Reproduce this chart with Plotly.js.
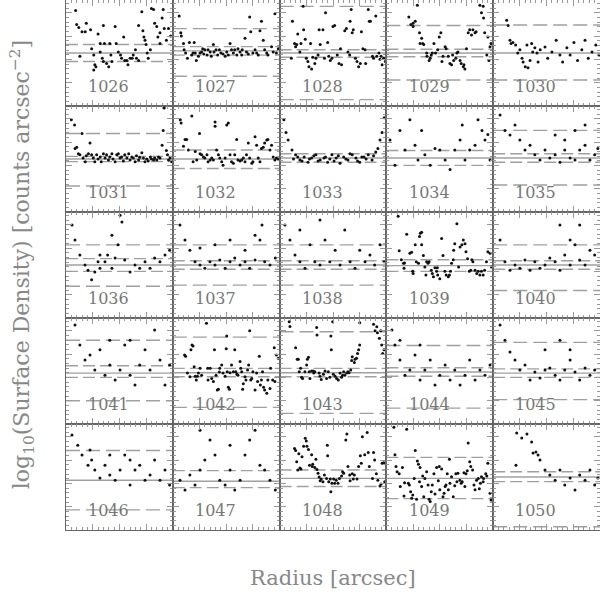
<!DOCTYPE html>
<html>
<head>
<meta charset="utf-8">
<script src="https://cdn.plot.ly/plotly-3.0.1.min.js"></script>
<style>
  html, body { margin: 0; padding: 0; background: #fff; }
  #chart { width: 600px; height: 600px; }
</style>
</head>
<body>
<div id="chart"></div>
<script>
// Galaxy ids, one per panel (row by row)
var panelIds = [1026, 1027, 1028, 1029, 1030,
                1031, 1032, 1033, 1034, 1035,
                1036, 1037, 1038, 1039, 1040,
                1041, 1042, 1043, 1044, 1045,
                1046, 1047, 1048, 1049, 1050];

// radius of each point, per panel (arbitrary units, 0-100 across a panel)
var radius = [
  [9,10,12,15,18,19,23,13,24,26,27,26,28,30,32,32,34,35,36,35,38,40,41,42,43,46,47,49,51,52,54,55,57,58,60,62,63,65,66,68,68,71,72,73,74,75,76,77,79,80,82,83,85,86,88,90,91,92,94,96,98,88],
  [6,7.5,8,10,10.6,12,13.7,15.6,17.7,19,20,21,22,24,25.5,27,28,29,30,32,33,35,36,38,38.6,40.5,42,43.6,45,47,49,50.5,52,53.6,55,56.7,58,60,61,63,64.5,65,67.6,69,70.7,72,73,75,77,78.5,80,81.6,83,84.7,86,88,89,92.5,94,95.6,97,98.8],
  [12,14,16,17,15,19,20,22,22.5,24,25,26.5,27.5,29,30,31,33,34,36,37,38,40.6,42,43,45,46,47.5,49,50,51.5,54,55.6,57,58,61,62.5,64,65.6,66,67,68,69,71,72.5,74,75.6,76.6,78,80,80.6,83,84,85,87,88,90,91,93,94,96,97.5,99,95,11],
  [21,23,25,25,27,29,31,33,31.5,34,35,37.7,38,40,41,42,43,44.5,46,48,49.5,51,52,53,55,56,58,59.5,61,62,63,65,66,67,69,70,72,73.5,72.6,75,76.6,78,79.7,81,83,84,87.5,89,90.6,91,92,94,95,97,98,96],
  [12.6,14,15.7,16.7,18.5,21,23,25,27,28,30,31.6,32.6,34.5,36,37,39,41,42,44,48.5,51,55,59,62.5,65,69,72,75.6,79,83,86,89,92.5,96,99],
  [5,8,8.5,10,11.6,13,15,16,18,19,21,22.5,24,25.6,27,28.7,30,32,33,35,36.6,38,39.7,41,43,44,46,47.5,49,50.6,52,53.7,55,57,58.7,60,61.6,63,64.7,66,68,69,71,72.5,74,75.6,77,79,80,82,83,85,86.6,88,90,91,92,94,95,96,97.5,99],
  [7,7.8,10,11.5,13,14.6,17.8,19,21,22.4,25,25.5,27,28.7,30,32,33,35,36.4,38,39.6,39.6,41,42.7,44,45.8,47,49,50.5,52,53.6,55,56.7,58,59.8,61,63,64.5,66,67.6,69,70.7,72,74,75,77,78.5,80,81.6,83,84.7,86,88,89,91,92.5,94,95.6,97,98.8],
  [4,8,11.6,15,19,23,26.6,30,34,38,41.6,45,49,53,56.6,60,64,68,71.5,75,79,83,86.6,90,94,98,6,13,17,21,28,32,36,43,47,51,55,62,66,73,77,81,88,92,96],
  [3.4,8,12.7,17.4,22,26.8,29.6,33,36,41,45.5,50,55,59.6,64,69,71,73.6,78,83,85.8,89.5,92.3,95,97],
  [6.4,11,15.7,20.4,25,29.8,34.5,39,43.8,48.5,53,58,62.5,67,72,76.6,81,86,90.6,95,98,58,67,76.6,86],
  [5.6,8.4,13,17.8,20.6,24,27,30,31.8,36.5,39,43,46,48.7,50.6,52.4,55,60,64.6,69,74,78.7,83,88,92.7,97,43,31.8],
  [6.7,11.4,16,20.8,25.5,30,34.8,39.5,44,49,53.6,58,63,67.6,72,77,81.6,86,91,96,25.5,39.5,53.6,67.6,77,83.5],
  [5,9.7,14.4,19,23.8,28.5,33,37.8,42.5,47,52,56.6,61,66,70.6,75,80,84.6,89,94,97.8,19,37.8],
  [11,12,14,16,16.5,17,19,22,23.6,24.6,25,27,28,30,31,31.8,33,33,34.6,36,37,37.7,39,40,42,43,44,45.5,47,47.7,48,50,51.7,53,54.8,56,58,59,60,61,62.6,63,64,66,67.6,69,70.7,72,73.6,74.5,76,77.6,79,80,81,83,84.6,86,87.5,89,90.6,92,93.7,95,97,98.4],
  [6.4,11,15.7,20.4,25,29.8,34.5,39,43.8,48.5,53,58,62.5,67,72,76.6,81,86,90.6,95,62.5,72,81],
  [8.4,13,17.8,22.5,27,31.8,36.5,41,46,50.6,55,60,64.6,69,74,78.7,83,88,92.7,97,41,60],
  [11,12,13.7,16,17,18,19,20,21,22,23,24,25.5,27,31.5,32.7,33,35,36.4,38,39,40.5,41.7,42.7,43.6,44,45.8,47,49,50,50.5,51,52,53,53.6,55,56.7,58,59,60,61,63,63.6,64.5,65.4,66,67.6,68.5,70,71,72,73,74,75,77,78.5,79.4,81,82,83,84,85,86,88,89,91,91.6,93.5,95,95.6,97,98.8],
  [9,9.7,15,16.5,17.5,18.4,19.7,20.6,21.5,23.7,25.3,26,27,27.8,28.4,30,31.5,32,33,34.7,35,37,37.8,39,41,42.5,44,45.6,47,48,48.4,49.7,50.3,52,53.4,55,56.6,58,59,60,61,62.8,64,65,66.6,67.5,68,70,70.6,72,73,74,75,75,88,89.4,91,91.6,93.4,94.7,95.6,96.5,97.8],
  [5.2,8,12.7,17.4,22,26.8,31.5,36,41,45.5,50,55,59.6,64,69,73.6,78,83,87.6,92.3,97,12.7,31.5],
  [6.4,11,15.7,20.4,25,29.8,34.5,39,43.8,48.5,53,58,62.5,67,72,76.6,81,86,90.6,95,62.5,72,48.5],
  [5.6,11,15,20.6,24,27,31.8,36.5,41,46,50.6,55,60,64.6,69,74,78.7,83,88,92.7,97,22.5,41,60],
  [6.7,11.4,16,20.8,25.5,30,34.8,39.5,44,49,53.6,58,63,67.6,72,77,81.6,86,91,96,25.5,53.6],
  [14,15,16,17,18,19,20,21,22.5,24,25,25.6,27,28,30,30.6,31,33,34,35,36,37,38,39,40.6,42,44,44.7,45,46,47.5,48,49,50.6,51.6,53,54.7,56,58,59,60,62,63,64,65.6,66,68,69,70,72.5,74,75.6,76.5,77.5,79.7,82,83,84,87,88,89,90.6,92,94,95,96,97.5,98.4],
  [7,8,9,10,12,13,15,16.5,17,19,20.5,21.5,22.7,23.7,24.7,26,27,28.3,29,30,31,31.5,33,34,35,36,37.7,39,40,41,42,43,44.5,45.5,47,48.6,49.5,50,51.7,53,54,55,55.8,57,58,59,59.5,61,62.6,64,65,66,67,68.8,70,71,72.6,73.5,74.5,75.7,76.6,78,79,80.7,82,83,84.4,86,87,88,89,90.6,91,93,94,95,97,98],
  [22,26.7,31.6,36,37.3,40,42,21.3,43.8,48.5,53,58,62.5,67,72,76.6,81,86,90.6,95,98]
];

// log surface density of each point, per panel (arbitrary units, 0-100 up a panel)
var density = [
  [90,77,74,70,70,78,72,47,54,48,39,34,37,68,59,51,45,76,59,42,40,37,59,48,42,75,59,51,48,45,65,43,43,39,45,45,48,53,45,43,76,89,71,65,62,58,50,45,53,92,91,78,75,65,69,83,91,73,62,73,66,59],
  [85,69,66,59,53,50,45,60,48,50,60,50,43,47,50,51,54,49,53,48,53,51,47,58,51,53,48,53,50,49,47,51,48,59,53,50,53,48,54,51,48,53,64,51,49,84,70,50,53,50,48,71,80,62,53,50,48,56,51,87,50,54],
  [80,59,58,68,56,51,59,94,72,63,45,42,37,59,35,46,40,45,48,72,58,72,45,88,60,47,43,45,75,76,48,40,54,39,71,73,51,48,80,91,69,72,45,42,37,40,70,54,53,40,91,80,80,47,45,85,47,50,44,39,45,42,47,45],
  [84,77,78,75,80,95,69,64,59,59,58,50,47,43,45,48,50,59,50,53,65,69,42,47,56,54,47,40,39,48,43,45,50,51,43,40,37,35,39,54,69,72,67,72,69,70,95,88,94,83,69,48,65,56,59,43],
  [81,76,62,59,60,57.5,50,53,45,41.5,37,57.5,36,43,59,51,55,50,41.5,53,55.6,45,51,62,48,41.5,55,48,60,43,53,62,45,51,57.5,48],
  [87,82,60,61,55,54,74,51,47.5,53,55,65,54,51,47.5,54,50,52,47.5,55,51,54,49,52,55,50,47.5,54,55,51,52,48,54,51,55,49,52,51,47.5,53,49,51.6,56,51,47.5,50,48,52,50,49,51,49,52,51,63,77,98,58,54,49,51,47.5],
  [87,84,62,68.5,68.5,58.5,90.6,47.5,57,49,74,55,54,52,51,54,47.5,49,51,49,85,81,58.5,54,51,47.5,44,51,82,84,54,47.5,46,54,68.5,49,48,49,51,47.5,54,65,51,46,47.5,71,63,51,47.5,60,61,65,68,68.5,58.5,63,52,49,51,50],
  [87,68,58.5,54,49,52,47,51,54,49,51,47,54,51,46,52,49,54,51,47,52,54,49,56.6,68,89,75,50,52,48,50,53,48,52,50,48,53,50,55,48,52,50,53,60,75],
  [68,44,77,58.5,87,63,49,77,54,44,60,58.5,49,40,58.5,68,82,49,58.5,63,87,77,68,73,49],
  [91.5,77,72.6,82,68,58.5,63,54,49,58.5,51,54,47,58.5,51,49,58.5,63,49,54,60,72.6,68,77,82],
  [87.7,73.6,59.4,50,45,36,43.4,53,47,53,59.4,47,56.6,69,97,90.6,54.7,43.4,50,47,53,47,56.6,53,59.4,64,78,59.4],
  [87.7,73.6,64,53,50,47,53,50,54.7,47,53,56.6,50,53,47,54.7,73.6,53,50,56.6,66,69,73.6,64,78,87.7],
  [87.7,73.6,59.4,53,47,69,53,50,73.6,53,64,50,83,53,47,64,53,59.4,50,69,53,83,92.5],
  [96,63.5,55,51.6,47,52,79,61,62,44,42,69,53,51.6,77,80,81,69,59,48,40.6,53,51.6,53,45,42,39,47.5,44,47.5,40.6,37,75,59,44,40.6,39,40.6,44,51.6,55,64,70,89,48,67,69,73.6,70,62.6,56,44,45,55,53,45,42,44,40.6,44,40.6,45,53,62.6,61,48],
  [73.6,53,45,50,47,54.7,45,53,47,50,56.6,53,45,59.4,50,69,54.7,50,64,59.4,87.7,73.6,87.7],
  [93.4,74.5,60.4,65,51,70,46,55.7,41.5,51,74.5,46,36.8,55.7,70,51,88.7,60.4,36.8,55.7,79,79],
  [65,64,48,44.6,70,74.5,73.6,54,45,41.5,45,48,52.5,46,95,52.5,41.5,52.5,43,40,70,46,32,32.7,49,52.5,55.6,48,45,71,83,49.4,34.6,32.7,48.4,55.6,49.4,70,49.4,47,46,59,52.5,49.4,32.7,38,44.6,41.5,51,55.6,88,41.5,43,49.4,32,48,40,64,36.8,41.5,49.4,34.6,32,29,41.5,33.6,52.5,41.5,72,40,65,62],
  [96.5,92,72,61,61,49.4,52.5,44,43,49.4,55.6,61,63,49.4,43,50,50,48,49.4,91,84,48,45,42,47,50,43,49.4,44,83,70,96.5,47,45,43,41.5,48,44,46,49.4,46,48,49.4,48.4,51,60,63.5,58,61,62,66.6,70,74.5,95.6,94,88,91.8,86,81,88,74.5,66.6,70],
  [88.7,74.5,60.4,46,51,65,41.5,51,60.4,36.8,46,55.7,41.5,51,36.8,46,60.4,41.5,51,46,55.7,79,74.5],
  [93.4,79,68,60.4,51,55.7,41.5,49,43.4,51,52.8,46,41.5,51,60.4,49,41.5,52.8,46,51,79,70,70],
  [89.6,80,70.8,61,66,56.6,49,61,52,47,56.6,70.8,42.5,56.6,61,47,52,66,47,56.6,42.5,75.5,70.8,66],
  [47,37.7,52,42.5,56.6,66,85,70.8,47,42.5,56.6,37.7,47,70.8,85,94,61,56.6,47,37.7,94,80],
  [77,75,64.5,56.6,72,58.5,57.5,69,79,86.5,84,79,76,61,71,60,62,59,66.7,57,53.5,50,46.5,48,45.6,52,48.7,80,70,45.6,48,36,44,48,44,47,44,48.7,51,55,53.5,85,90.6,60,52,46.5,53,48,52,48,60,70,63,88,71,92,73,60,48.7,73,66,53,47,41.5,43.4,63,63.5,45.6],
  [97,71,60,55,53,41,59,32,44.6,95,44,42.5,36,30,33,48.7,75,29,65,62,45.6,59,41,51,31.4,48.7,55,42.5,29,27,36,42.5,53,34,59,46.5,60,38,57.5,31.4,34.6,41,42.5,53,38,66.7,44,50.3,31.4,41.8,53,45.6,53.5,47,44,45.6,54,41,53,56,82,64.5,60,56.6,42.5,38,47,48.7,39,44,50.3,45.6,48.7,53,51,63,34.6,28.3],
  [91.5,86.8,90.6,83,72.6,73.6,70.8,61,66,56.6,52,47,56.6,42.5,49,37.7,52,47,56.6,42.5,49]
];

// reference levels per panel: solid line, inner dashed pair, outer dashed pair
var meanLevel = [50, 52, 50, 50, 50,
                 50, 50, 51, 51, 51,
                 50, 50, 50, 49.4, 50,
                 48, 48.4, 48.4, 49, 48,
                 47, 46, 48.7, 48.7, 50];
var innerBand = [[42, 58], [48, 56], [46, 53], [46.5, 53.5], [],
                 [47.5, 52.5], [41, 58.5], [47, 55], [44, 58], [47, 55],
                 [44, 56], [46, 54], [46, 54], [44, 55], [46, 54],
                 [44, 55], [44.6, 52.5], [44.6, 52.5], [45, 53], [44, 52],
                 [], [40, 56], [41, 56.6], [29.6, 68.5], [45.6, 55]];
var outerBand = [[], [28, 73], [6, 94], [24.5, 76], [24.5, 76.4],
                 [24.5, 74], [], [], [], [25.5, 77],
                 [30, 69], [31, 69], [31, 69], [], [26, 69],
                 [22, 79], [15.7, 82], [10, 87], [15, 74], [23, 77],
                 [19, 75], [], [], [], [3]];

var nCols = 5, nRows = 5;
var data = [];
var shapes = [];
var annotations = [];
var layout = {
  width: 600,
  height: 600,
  margin: {l: 66, r: 0, t: 0, b: 70},
  paper_bgcolor: '#fff',
  plot_bgcolor: '#fff',
  showlegend: false,
  font: {family: 'DejaVu Serif, serif', color: '#888'}
};

panelIds.forEach(function(id, i) {
  var n = i + 1;
  var sfx = n === 1 ? '' : String(n);
  var r = Math.floor(i / nCols), c = i % nCols;

  data.push({
    x: radius[i],
    y: density[i],
    xaxis: 'x' + sfx,
    yaxis: 'y' + sfx,
    mode: 'markers',
    type: 'scatter',
    marker: {color: '#111', size: 3},
    hoverinfo: 'skip',
    cliponaxis: true
  });

  var axBase = {
    range: [0, 100],
    showticklabels: false,
    showgrid: false,
    zeroline: false,
    showline: true,
    linecolor: '#666',
    linewidth: 1,
    mirror: 'allticks',
    ticks: 'inside',
    ticklen: 6,
    tickcolor: '#999',
    tickwidth: 1,
    fixedrange: true
  };
  layout['xaxis' + sfx] = Object.assign({}, axBase, {
    domain: [c / nCols, (c + 1) / nCols],
    anchor: 'y' + sfx,
    dtick: 25, tick0: 0,
    minor: {dtick: 5, ticks: 'inside', ticklen: 3, tickcolor: '#999', showgrid: false}
  });
  layout['yaxis' + sfx] = Object.assign({}, axBase, {
    domain: [1 - (r + 1) / nRows, 1 - r / nRows],
    anchor: 'x' + sfx,
    dtick: 22, tick0: 0,
    minor: {dtick: 4.4, ticks: 'inside', ticklen: 3, tickcolor: '#999', showgrid: false}
  });

  function hline(level, dash) {
    shapes.push({
      type: 'line',
      xref: 'x' + sfx + ' domain', yref: 'y' + sfx,
      x0: 0, x1: 1, y0: level, y1: level,
      line: {color: '#a0a0a0', width: 1.4, dash: dash},
      layer: 'below'
    });
  }
  hline(meanLevel[i], 'solid');
  innerBand[i].forEach(function(v) { hline(v, '12px,5px'); });
  outerBand[i].forEach(function(v) { hline(v, '14px,6px'); });

  annotations.push({
    xref: 'x' + sfx + ' domain', yref: 'y' + sfx + ' domain',
    x: 0.19, y: 0.18, xanchor: 'left', yanchor: 'middle',
    text: String(id), showarrow: false,
    font: {family: 'DejaVu Serif, serif', size: 16, color: '#777'}
  });
});

annotations.push({
  xref: 'paper', yref: 'paper',
  x: 0.5, y: -0.09, xanchor: 'center', yanchor: 'middle',
  text: 'Radius [arcsec]', showarrow: false,
  font: {family: 'DejaVu Serif, serif', size: 21, color: '#888'}
});
annotations.push({
  xref: 'paper', yref: 'paper',
  x: -0.082, y: 0.5, xanchor: 'center', yanchor: 'middle',
  textangle: -90,
  text: 'log<sub>10</sub>(Surface Density) [counts arcsec<sup>\u22122</sup>]',
  showarrow: false,
  font: {family: 'DejaVu Serif, serif', size: 22, color: '#888'}
});

layout.shapes = shapes;
layout.annotations = annotations;

Plotly.newPlot('chart', data, layout, {displayModeBar: false, staticPlot: true});
</script>
</body>
</html>
